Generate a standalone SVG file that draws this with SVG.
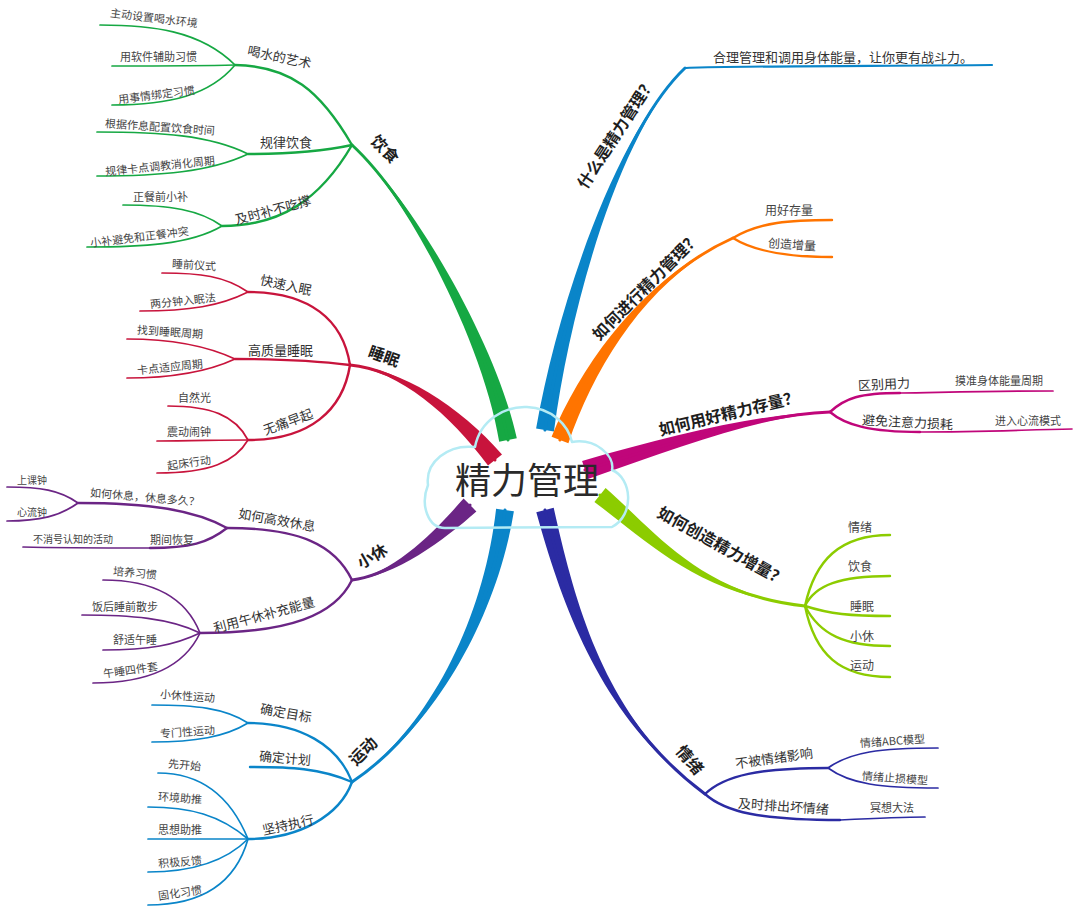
<svg xmlns="http://www.w3.org/2000/svg" width="1080" height="915" viewBox="0 0 1080 915">
<style>
text{font-family:"Noto Sans CJK SC","Noto Sans",sans-serif;}
.m{font-size:16px;font-weight:600;fill:#1e1e1e;}
.s{font-size:13px;fill:#333;}
.l{font-size:11px;fill:#444;}
.l2{font-size:12px;fill:#444;}
.t{font-size:36px;fill:#2a2a2a;}
path{fill:none;stroke-linecap:round;}
.s2{stroke-width:2.4;}
.s3{stroke-width:1.7;}
.g{stroke:#16a843;} .gf{fill:#16a843;}
.r{stroke:#c8143c;} .rf{fill:#c8143c;}
.p{stroke:#6b2585;} .pf{fill:#6b2585;}
.b{stroke:#0a85c9;} .bf{fill:#0a85c9;}
.o{stroke:#ff7400;} .of{fill:#ff7400;}
.mg{stroke:#c0067a;} .mgf{fill:#c0067a;}
.y{stroke:#8ccc00;} .yf{fill:#8ccc00;}
.n{stroke:#2b2ba3;} .nf{fill:#2b2ba3;}
.c{stroke-width:3;}
</style>
<rect width="1080" height="915" fill="#fff"/>
<g id="connectors">
  <!-- main tapered branches -->
  <path class="gf" style="stroke:none" d="M516.8,438.3 C496.2,343.8 413.2,198.7 352,145 C410.8,201.3 483.8,346.2 499.2,441.7 Z"/>
  <path class="g c" d="M508,440 C490,345 412,200 352,145"/>
  <path class="rf" style="stroke:none" d="M502,454.4 C459.9,406.1 400.2,368.2 350,365 C399.8,371.8 450.1,413.9 488,465.6 Z"/>
  <path class="r c" d="M495,460 C455,410 400,370 350,365"/>
  <path class="pf" style="stroke:none" d="M463.6,498.6 C435.5,530.5 394.8,573.2 352,580 C395.2,576.8 444.5,539.5 476.4,511.4 Z"/>
  <path class="p c" d="M470,505 C440,535 395,575 352,580"/>
  <path class="bf" style="stroke:none" d="M496.1,508.8 C483.8,619.1 429,728.5 352,782 C431,731.5 496.2,620.9 513.9,511.2 Z"/>
  <path class="b c" d="M505,510 C490,620 430,730 352,782"/>
  <path class="bf" style="stroke:none" d="M553.9,431.4 C571.2,301 621.2,131.3 685,68 C618.8,128.7 558.8,299 536.1,428.6 Z"/>
  <path class="b c" d="M545,430 C565,300 620,130 685,68"/>
  <path class="b" style="stroke-width:2.2" d="M685,68 C700,66 900,66 992,65"/>
  <path class="of" style="stroke:none" d="M568.4,443.2 C595.9,362.2 650.7,276.6 733,238 C649.3,273.4 584.1,357.8 551.6,436.8 Z"/>
  <path class="o c" d="M560,440 C590,360 650,275 733,238"/>
  <path class="mgf" style="stroke:none" d="M587.9,479.1 C682,446.3 760.1,416.9 830,412 C759.9,413.1 678,433.7 582.1,460.9 Z"/>
  <path class="mg c" d="M585,470 C680,440 760,415 830,412"/>
  <path class="yf" style="stroke:none" d="M594.4,502 C646.1,539.9 699.8,596.8 805,606 C700.2,593.2 653.9,530.1 605.6,488 Z"/>
  <path class="y c" d="M600,495 C650,535 700,595 805,606"/>
  <path class="nf" style="stroke:none" d="M536.3,512.2 C563.9,611.5 603.9,721.5 705,794 C606.1,718.5 576.1,608.5 553.7,507.8 Z"/>
  <path class="n c" d="M545,510 C570,610 605,720 705,794"/>

  <!-- 饮食 -->
  <path class="g s2" d="M352,145 C320,90 290,66 235,65"/>
  <path class="g s2" d="M352,145 C320,152 290,154 248,154"/>
  <path class="g s2" d="M352,145 C320,200 280,226 222,226"/>
  <path class="g s3" d="M235,65 C200,30 150,25 100,25"/>
  <path class="g s3" d="M235,65 C200,66 150,66 112,66"/>
  <path class="g s3" d="M235,65 C210,95 170,105 112,105"/>
  <path class="g s3" d="M248,154 C210,135 160,132 97,132"/>
  <path class="g s3" d="M248,154 C210,172 160,176 97,176"/>
  <path class="g s3" d="M222,226 C200,210 170,205 123,205"/>
  <path class="g s3" d="M222,226 C190,245 140,247 87,247"/>

  <!-- 睡眠 -->
  <path class="r s2" d="M350,365 C343,320 310,292 248,292"/>
  <path class="r s2" d="M350,365 C310,360 280,359 235,359"/>
  <path class="r s2" d="M350,365 C343,410 310,440 248,440"/>
  <path class="r s3" d="M248,292 C225,276 200,273 162,273"/>
  <path class="r s3" d="M248,292 C220,306 190,311 140,311"/>
  <path class="r s3" d="M235,359 C205,345 170,339 127,339"/>
  <path class="r s3" d="M235,359 C205,373 170,378 127,378"/>
  <path class="r s3" d="M248,440 C235,415 210,406 168,406"/>
  <path class="r s3" d="M248,440 C220,440 190,441 157,441"/>
  <path class="r s3" d="M248,440 C235,462 210,473 157,473"/>

  <!-- 小休 -->
  <path class="p s2" d="M352,580 C335,545 300,528 227,528"/>
  <path class="p s2" d="M352,580 C335,615 290,633 200,633"/>
  <path class="p s2" d="M227,528 C195,510 150,503 78,503"/>
  <path class="p s3" d="M78,503 C60,490 40,487 7,487"/>
  <path class="p s3" d="M78,503 C60,516 40,521 7,521"/>
  <path class="p s2" d="M227,528 C208,543 190,548 150,548"/>
  <path class="p s3" d="M150,548 C100,548 60,548 23,547"/>
  <path class="p s3" d="M200,633 C185,595 150,580 103,580"/>
  <path class="p s3" d="M200,633 C170,618 130,615 82,615"/>
  <path class="p s3" d="M200,633 C175,645 150,650 103,650"/>
  <path class="p s3" d="M200,633 C185,665 150,683 93,683"/>

  <!-- 运动 -->
  <path class="b s2" d="M352,782 C338,745 300,723 248,723"/>
  <path class="b s2" d="M352,782 C320,768 290,767 250,767"/>
  <path class="b s2" d="M352,782 C340,815 300,839 248,839"/>
  <path class="b s3" d="M248,723 C225,708 195,705 152,705"/>
  <path class="b s3" d="M248,723 C225,737 195,742 152,742"/>
  <path class="b s3" d="M248,839 C230,795 200,773 158,773"/>
  <path class="b s3" d="M248,839 C220,815 190,807 148,807"/>
  <path class="b s3" d="M248,839 C220,839 180,839 148,839"/>
  <path class="b s3" d="M248,839 C225,862 190,872 148,872"/>
  <path class="b s3" d="M248,839 C235,885 200,905 148,905"/>

  <!-- 如何进行 -->
  <path class="o s2" d="M733,238 C760,222 790,220 832,220"/>
  <path class="o s2" d="M733,238 C755,252 790,257 832,257"/>

  <!-- 如何用好 -->
  <path class="mg s2" d="M830,412 C845,398 860,393 900,393"/>
  <path class="mg s3" d="M900,393 C960,392 1000,391 1053,391"/>
  <path class="mg s2" d="M830,412 C845,425 870,432 920,432"/>
  <path class="mg s3" d="M920,432 C980,432 1020,430 1072,429"/>

  <!-- 如何创造 -->
  <path class="y s2" d="M805,606 C815,560 840,535 890,535"/>
  <path class="y s2" d="M805,606 C815,585 840,576 890,576"/>
  <path class="y s2" d="M805,606 C830,614 850,616 890,616"/>
  <path class="y s2" d="M805,606 C820,635 845,646 890,646"/>
  <path class="y s2" d="M805,606 C815,655 840,677 890,677"/>

  <!-- 情绪 -->
  <path class="n s2" d="M705,794 C725,775 760,768 828,768"/>
  <path class="n s3" d="M828,768 C850,752 880,748 938,748"/>
  <path class="n s3" d="M828,768 C850,784 880,788 938,788"/>
  <path class="n s2" d="M705,794 C725,812 760,820 840,820"/>
  <path class="n s3" d="M840,820 C880,818 900,817 925,817"/>
</g>

<g id="center">
  <path d="M445,528 C428,528 420,505 428,485 C425,462 448,444 475,447 C480,420 505,406 527,407 C552,408 568,425 572,442 C595,438 615,455 612,470 C632,478 635,515 612,527 Z" fill="#ddf3f8" stroke="#b4ebf4" stroke-width="2.5" stroke-linejoin="round"/>
  <text class="t" x="527" y="494" text-anchor="middle">精力管理</text>
</g>

<g id="n-yinshi">
  <text class="m" transform="translate(385,149) rotate(45)" text-anchor="middle" y="6">饮食</text>
  <g id="n-heshui"><text class="s" x="247" y="62" transform="rotate(12,280,57)">喝水的艺术</text></g>
  <g id="n-heshui-1"><text class="l" x="110" y="22" transform="rotate(7,153,18)">主动设置喝水环境</text></g>
  <g id="n-heshui-2"><text class="l" x="120" y="61">用软件辅助习惯</text></g>
  <g id="n-heshui-3"><text class="l" x="118" y="99" transform="rotate(-7,155,95)">用事情绑定习惯</text></g>
  <g id="n-guilv"><text class="s" x="260" y="147">规律饮食</text></g>
  <g id="n-guilv-1"><text class="l" x="105" y="131" transform="rotate(4,160,127)">根据作息配置饮食时间</text></g>
  <g id="n-guilv-2"><text class="l" x="105" y="170" transform="rotate(-6,160,166)">规律卡点调教消化周期</text></g>
  <g id="n-jishi"><text class="s" x="234" y="215" transform="rotate(-15,272,210)">及时补不吃撑</text></g>
  <g id="n-jishi-1"><text class="l" x="133" y="201">正餐前小补</text></g>
  <g id="n-jishi-2"><text class="l" x="90" y="241" transform="rotate(-7,140,237)">小补避免和正餐冲突</text></g>
</g>

<g id="n-shuimian">
  <text class="m" transform="translate(384,356) rotate(20)" text-anchor="middle" y="6">睡眠</text>
  <g id="n-kuaisu"><text class="s" x="260" y="290" transform="rotate(12,287,285)">快速入眠</text></g>
  <g id="n-kuaisu-1"><text class="l" x="172" y="269" transform="rotate(4,193,265)">睡前仪式</text></g>
  <g id="n-kuaisu-2"><text class="l" x="150" y="305" transform="rotate(-6,182,301)">两分钟入眠法</text></g>
  <g id="n-gaozhi"><text class="s" x="248" y="355">高质量睡眠</text></g>
  <g id="n-gaozhi-1"><text class="l" x="137" y="336" transform="rotate(4,170,332)">找到睡眠周期</text></g>
  <g id="n-gaozhi-2"><text class="l" x="137" y="371" transform="rotate(-6,170,367)">卡点适应周期</text></g>
  <g id="n-wutong"><text class="s" x="262" y="427" transform="rotate(-20,287,422)">无痛早起</text></g>
  <g id="n-wutong-1"><text class="l" x="178" y="402">自然光</text></g>
  <g id="n-wutong-2"><text class="l" x="167" y="436">震动闹钟</text></g>
  <g id="n-wutong-3"><text class="l" x="167" y="467" transform="rotate(-8,188,463)">起床行动</text></g>
</g>

<g id="n-xiaoxiu">
  <text class="m" transform="translate(372,556) rotate(-30)" text-anchor="middle" y="6">小休</text>
  <g id="n-gaoxiao"><text class="s" x="238" y="525" transform="rotate(10,278,520)">如何高效休息</text></g>
  <g id="n-ruhe"><text class="l" x="90" y="501" transform="rotate(5,142,497)">如何休息，休息多久？</text></g>
  <g id="n-ruhe-1"><text class="l" x="17" y="484" style="font-size:10px">上课钟</text></g>
  <g id="n-ruhe-2"><text class="l" x="17" y="516" style="font-size:10px">心流钟</text></g>
  <g id="n-qijian"><text class="l" x="150" y="544">期间恢复</text></g>
  <g id="n-qijian-1"><text class="l" x="33" y="543" style="font-size:10px">不消号认知的活动</text></g>
  <g id="n-wuxiu"><text class="s" x="212" y="620" transform="rotate(-15,263,615)">利用午休补充能量</text></g>
  <g id="n-wuxiu-1"><text class="l" x="113" y="577" transform="rotate(5,135,573)">培养习惯</text></g>
  <g id="n-wuxiu-2"><text class="l" x="92" y="611">饭后睡前散步</text></g>
  <g id="n-wuxiu-3"><text class="l" x="113" y="644">舒适午睡</text></g>
  <g id="n-wuxiu-4"><text class="l" x="103" y="674" transform="rotate(-8,131,670)">午睡四件套</text></g>
</g>

<g id="n-yundong">
  <text class="m" transform="translate(363,751) rotate(-45)" text-anchor="middle" y="6">运动</text>
  <g id="n-mubiao"><text class="s" x="260" y="718" transform="rotate(10,287,713)">确定目标</text></g>
  <g id="n-mubiao-1"><text class="l" x="160" y="700" transform="rotate(4,187,697)">小休性运动</text></g>
  <g id="n-mubiao-2"><text class="l" x="160" y="736" transform="rotate(-4,187,732)">专门性运动</text></g>
  <g id="n-jihua"><text class="s" x="259" y="763" transform="rotate(5,285,758)">确定计划</text></g>
  <g id="n-jianchi"><text class="s" x="262" y="830" transform="rotate(-12,286,825)">坚持执行</text></g>
  <g id="n-jianchi-1"><text class="l" x="168" y="769" transform="rotate(5,185,765)">先开始</text></g>
  <g id="n-jianchi-2"><text class="l" x="158" y="802" transform="rotate(4,179,798)">环境助推</text></g>
  <g id="n-jianchi-3"><text class="l" x="158" y="834">思想助推</text></g>
  <g id="n-jianchi-4"><text class="l" x="158" y="866" transform="rotate(-5,179,862)">积极反馈</text></g>
  <g id="n-jianchi-5"><text class="l" x="158" y="897" transform="rotate(-8,179,893)">固化习惯</text></g>
</g>

<g id="n-shenme">
  <text class="m" transform="translate(616,133) rotate(-57)" text-anchor="middle" y="6">什么是精力管理？</text>
  <g id="n-shenme-1"><text class="s" x="713" y="62">合理管理和调用身体能量，让你更有战斗力。</text></g>
</g>

<g id="n-jinxing">
  <text class="m" transform="translate(646,286) rotate(-45)" text-anchor="middle" y="6">如何进行精力管理？</text>
  <g id="n-jinxing-1"><text class="l2" x="765" y="215">用好存量</text></g>
  <g id="n-jinxing-2"><text class="l2" x="768" y="249" transform="rotate(4,793,245)">创造增量</text></g>
</g>

<g id="n-cunliang">
  <text class="m" transform="translate(729,413) rotate(-13.5)" text-anchor="middle" y="6">如何用好精力存量？</text>
  <g id="n-qubie"><text class="s" x="858" y="389" transform="rotate(-3,885,384)">区别用力</text></g>
  <g id="n-qubie-1"><text class="l" x="955" y="385">摸准身体能量周期</text></g>
  <g id="n-bimian"><text class="s" x="862" y="427" transform="rotate(3,907,422)">避免注意力损耗</text></g>
  <g id="n-bimian-1"><text class="l" x="995" y="425">进入心流模式</text></g>
</g>

<g id="n-zengliang">
  <text class="m" transform="translate(722,546) rotate(29)" text-anchor="middle" y="6">如何创造精力增量？</text>
  <g id="n-zl-1"><text class="l2" x="848" y="532">情绪</text></g>
  <g id="n-zl-2"><text class="l2" x="848" y="571">饮食</text></g>
  <g id="n-zl-3"><text class="l2" x="850" y="611">睡眠</text></g>
  <g id="n-zl-4"><text class="l2" x="850" y="641">小休</text></g>
  <g id="n-zl-5"><text class="l2" x="850" y="670">运动</text></g>
</g>

<g id="n-qingxu">
  <text class="m" transform="translate(690,760) rotate(50)" text-anchor="middle" y="6">情绪</text>
  <g id="n-bubei"><text class="s" x="735" y="763" transform="rotate(-8,774,758)">不被情绪影响</text></g>
  <g id="n-bubei-1"><text class="l" x="860" y="745" transform="rotate(-4,892,741)">情绪ABC模型</text></g>
  <g id="n-bubei-2"><text class="l" x="862" y="782" transform="rotate(4,893,778)">情绪止损模型</text></g>
  <g id="n-paichu"><text class="s" x="738" y="811" transform="rotate(4,782,806)">及时排出坏情绪</text></g>
  <g id="n-paichu-1"><text class="l" x="870" y="812">冥想大法</text></g>
</g>
</svg>
